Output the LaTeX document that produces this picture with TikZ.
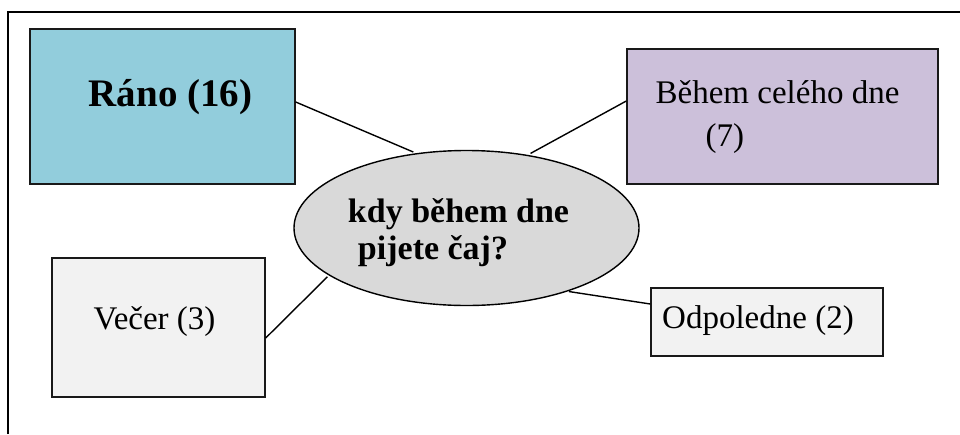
\documentclass[tikz,border=0pt]{standalone}
\usepackage{fontspec}
\setmainfont{Liberation Serif}
\usetikzlibrary{shapes.geometric}
\definecolor{ranoC}{HTML}{92CDDC}
\definecolor{behemC}{HTML}{CCC0DA}
\definecolor{ellC}{HTML}{D9D9D9}
\definecolor{lightC}{HTML}{F2F2F2}
\tikzset{
  box/.style={draw=black!90, line width=1.4pt, rectangle, inner sep=0pt},
  conn/.style={draw=black, line width=1.4pt},
  frameline/.style={draw=black, line width=1.6pt},
  normtxt/.style={font=\fontsize{33}{43}\selectfont},
}
\begin{document}
\begin{tikzpicture}[x=1pt,y=-1pt]
\useasboundingbox (0,0) rectangle (960,434);
\fill[white] (0,0) rectangle (960,434);
% outer frame (open at right and bottom)
\coordinate (fbl) at (8,434);
\coordinate (ftl) at (8,12);
\coordinate (ftr) at (960,12);
\draw[frameline] (fbl) -- (ftl) -- (ftr);

% boxes
\node[box, fill=ranoC, minimum width=265pt, minimum height=155pt,
  label={[font=\bfseries\fontsize{39}{45}\selectfont, xshift=8pt, yshift=9pt]center:Ráno (16)}]
  (rano) at (162.5,106.5) {};
\node[box, fill=behemC, minimum width=311pt, minimum height=135pt,
  label={[normtxt, align=left, xshift=-5pt, yshift=-1pt]center:Během celého dne\\\hspace*{50pt}(7)}]
  (behem) at (782.5,116.5) {};
\node[box, fill=lightC, minimum width=213pt, minimum height=139pt,
  label={[normtxt, xshift=-4pt, yshift=6pt]center:Večer (3)}]
  (vecer) at (158.5,327.5) {};
\node[box, fill=lightC, minimum width=232pt, minimum height=68pt,
  label={[normtxt, xshift=-9pt, yshift=1pt]center:Odpoledne (2)}]
  (odpo) at (767,322) {};

% central ellipse
\node[ellipse, draw=black, line width=1.4pt, fill=ellC, minimum width=345pt, minimum height=155pt, inner sep=0pt,
  label={[align=left, font=\bfseries\fontsize{34}{37}\selectfont, xshift=-8pt, yshift=-5pt]center:kdy během dne\\\hspace*{10pt}pijete čaj?}]
  (q) at (466.5,228) {};

% connectors
\draw[conn, shorten >=3pt] ([yshift=4.5pt]rano.east) -- (q.124);
\draw[conn, shorten >=3pt] ([yshift=15.5pt]behem.west) -- (q.50);
\draw[conn, shorten >=2pt] ([yshift=-10.5pt]vecer.east) -- (q.199);
\draw[conn, shorten >=1pt] ([yshift=18pt]odpo.west) -- (q.328);
\end{tikzpicture}
\end{document}
